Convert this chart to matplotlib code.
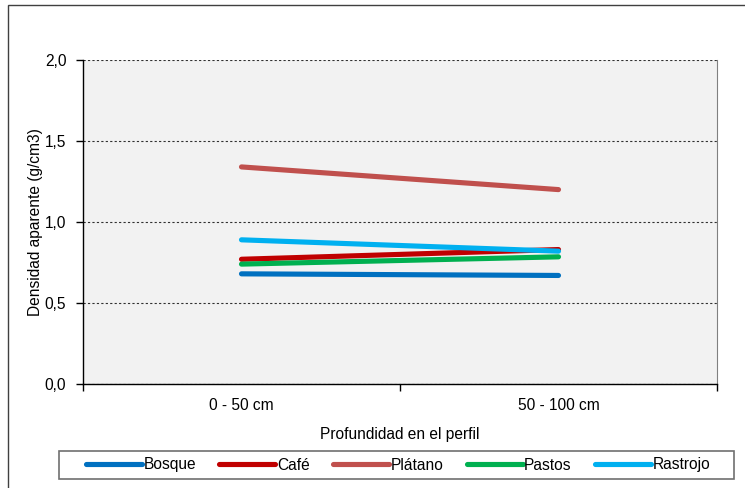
import matplotlib
matplotlib.use("Agg")
import matplotlib.pyplot as plt
from matplotlib.patches import Rectangle
from matplotlib.ticker import FixedLocator, FuncFormatter

plt.rcParams['font.family'] = ['Liberation Sans', 'DejaVu Sans']

categories = ["0 - 50 cm", "50 - 100 cm"]
series_names = ["Bosque", "Café", "Plátano", "Pastos", "Rastrojo"]
bosque = [0.68, 0.67]
cafe = [0.77, 0.83]
platano = [1.34, 1.20]
pastos = [0.74, 0.785]
rastrojo = [0.89, 0.82]
colors = ["#0070C0", "#C00000", "#C0504D", "#00B050", "#00B0F0"]
yticks = [0.0, 0.5, 1.0, 1.5, 2.0]

W, H = 745, 488
fig = plt.figure(figsize=(W / 100, H / 100), dpi=100)
ax = fig.add_axes([83 / W, 1 - 384 / H, (717 - 83) / W, (384 - 60) / H])
ax.set_facecolor("#F2F2F2")

xs = list(range(len(categories)))
for name, vals, c in zip(series_names, [bosque, cafe, platano, pastos, rastrojo], colors):
    ax.plot(xs, vals, color=c, lw=3.7, solid_capstyle="round", label=name, zorder=3)

ax.set_xlim(-0.5, len(categories) - 0.5)
ax.set_ylim(0, 2.0)
ax.set_yticks(yticks)
ax.yaxis.set_major_formatter(FuncFormatter(lambda v, p: f"{v:.1f}".replace(".", ",")))
ax.grid(axis="y", color="#000000", linestyle=(0, (2, 2)), lw=0.8, alpha=0.8)
ax.set_axisbelow(True)

ax.xaxis.set_major_locator(FixedLocator([i - 0.5 for i in range(len(categories) + 1)]))
ax.xaxis.set_major_formatter(FuncFormatter(lambda v, p: ""))
ax.xaxis.set_minor_locator(FixedLocator(xs))
ax.set_xticklabels(categories, minor=True)
ax.tick_params(axis="x", which="minor", length=0, pad=10, labelsize=11.2)
ax.tick_params(axis="x", which="major", length=5, direction="out", width=1)
ax.tick_params(axis="y", length=5, direction="out", width=1, labelsize=11.2, pad=7)

for s in ["left", "bottom"]:
    ax.spines[s].set_color("black")
    ax.spines[s].set_linewidth(1)
ax.spines["right"].set_color("#808080")
ax.spines["top"].set_visible(False)

ax.set_xlabel("Profundidad en el perfil", fontsize=11.2, labelpad=10)
ax.set_ylabel("Densidad aparente (g/cm3)", fontsize=11.2, labelpad=1.5)

leg = fig.legend(loc="center", bbox_to_anchor=(398 / W, 1 - 465 / H),
                 ncol=5, fontsize=11.2, frameon=False,
                 handlelength=3.6, handletextpad=0.1, columnspacing=1.5,
                 borderpad=0.3)

fig.add_artist(Rectangle((59 / W, 1 - 479 / H), (734 - 59) / W, 28 / H,
                         transform=fig.transFigure, fill=False,
                         edgecolor="#707070", lw=1.2))

fig.add_artist(Rectangle((8 / W, -0.1), 1.2, 1 - 5 / H + 0.1, transform=fig.transFigure,
                         fill=False, edgecolor="#404040", lw=1))

fig.savefig("out.png", dpi=100)
